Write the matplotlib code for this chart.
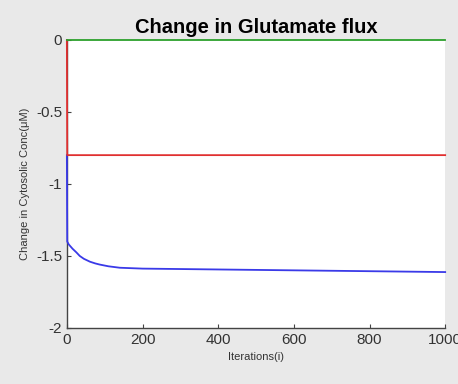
import matplotlib.pyplot as plt

# values
iters_blue = [0, 1, 5, 15, 25, 34, 45, 61, 75, 87, 110, 140, 200, 300, 400, 500, 600, 700, 800, 900, 1000]
blue_vals = [-0.80, -1.40, -1.42, -1.45, -1.475, -1.50, -1.52, -1.54, -1.552, -1.56, -1.572, -1.582, -1.588, -1.591, -1.594, -1.597, -1.600, -1.603, -1.606, -1.609, -1.612]

iters_red = [0, 1, 1000]
red_vals = [0.0, -0.80, -0.80]

iters_green = [0, 1000]
green_vals = [0.0, 0.0]

xticks = [0, 200, 400, 600, 800, 1000]
yticks = [0, -0.5, -1, -1.5, -2]

plt.rcParams['font.family'] = ['Liberation Sans', 'DejaVu Sans']

fig = plt.figure(figsize=(4.58, 3.84), dpi=100, facecolor='#e9e9e9')
ax = fig.add_axes([0.146, 0.146, 0.826, 0.750])

ax.plot(iters_blue, blue_vals, color='#3a3ae8', linewidth=1.3, zorder=4, clip_on=False)
ax.plot(iters_red, red_vals, color='#e03030', linewidth=1.3, zorder=4, clip_on=False)
ax.plot(iters_green, green_vals, color='#2ca02c', linewidth=1.3, zorder=4, clip_on=False)

ax.set_xlim(0, 1000)
ax.set_ylim(-2, 0)
ax.set_xticks(xticks)
ax.set_yticks(yticks)
ax.set_yticklabels(['0', '-0.5', '-1', '-1.5', '-2'])

for s in ['top', 'right']:
    ax.spines[s].set_visible(False)
for s in ['left', 'bottom']:
    ax.spines[s].set_color('#444444')
    ax.spines[s].set_linewidth(1.0)
    ax.spines[s].set_zorder(3)

ax.tick_params(direction='in', length=3, labelsize=11, colors='#444444', labelcolor='#333333')

ax.set_title('Change in Glutamate flux', fontsize=14.5, fontweight='bold', pad=5)
ax.set_xlabel('Iterations(i)', fontsize=8, color='#333333')
ax.set_ylabel('Change in Cytosolic Conc(\u03bcM)', fontsize=8, color='#333333')

fig.savefig('out.png', dpi=100, facecolor=fig.get_facecolor())
